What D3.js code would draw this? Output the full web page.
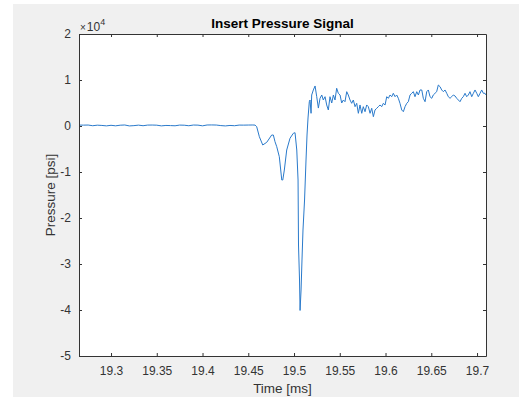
<!DOCTYPE html>
<html>
<head>
<meta charset="utf-8">
<script src="https://cdn.jsdelivr.net/npm/d3@7"></script>
<style>
  html, body { margin: 0; padding: 0; background: #ffffff; }
  svg { display: block; font-family: "Liberation Sans", Arial, sans-serif; }
</style>
</head>
<body>
<div id="chart"></div>
<script>
// time axis values [ms] and pressure values [psi]
var times = [
  19.265, 19.270, 19.275, 19.280, 19.285, 19.290, 19.295, 19.300, 19.305, 19.310,
  19.315, 19.320, 19.325, 19.330, 19.335, 19.340, 19.345, 19.350, 19.355, 19.360,
  19.365, 19.370, 19.375, 19.380, 19.385, 19.390, 19.395, 19.400, 19.405, 19.410,
  19.415, 19.420, 19.425, 19.430, 19.435, 19.440, 19.445, 19.450, 19.455,
  19.4574, 19.4592, 19.4621, 19.4658, 19.4702, 19.4756, 19.4774, 19.4792, 19.4811, 19.4839,
  19.4866, 19.4877, 19.4894, 19.4920, 19.4956, 19.4992, 19.5011, 19.5030, 19.5044, 19.5049,
  19.5060, 19.5066, 19.5077, 19.5087, 19.5098, 19.5115, 19.5131, 19.5142, 19.5153, 19.5167,
  19.5175, 19.5186, 19.5193, 19.5211, 19.5230, 19.5248, 19.5266, 19.5284, 19.5303, 19.5320,
  19.5339, 19.5357, 19.5375, 19.5393, 19.5412, 19.5430, 19.5448, 19.5466, 19.5484, 19.5503,
  19.5521, 19.5539, 19.5557, 19.5576, 19.5593, 19.5612, 19.5630, 19.5648, 19.5667, 19.5685,
  19.5703, 19.5721, 19.5740, 19.5757, 19.5776, 19.5794, 19.5812, 19.5831, 19.5849, 19.5867,
  19.5885, 19.5904, 19.5921, 19.5940, 19.5958, 19.5976, 19.5995, 19.6013, 19.6031, 19.6049,
  19.6068, 19.6085, 19.6104, 19.6122, 19.6140, 19.6158, 19.6177, 19.6195, 19.6213, 19.6232,
  19.6249, 19.6268, 19.6286, 19.6304, 19.6322, 19.6341, 19.6359, 19.6377, 19.6396, 19.6413,
  19.6432, 19.6450, 19.6468, 19.6486, 19.6505, 19.6522, 19.6541, 19.6559, 19.6577, 19.6596,
  19.6614, 19.6632, 19.6650, 19.6669, 19.6686, 19.6705, 19.6723, 19.6741, 19.6760, 19.6778,
  19.6796, 19.6814, 19.6833, 19.6850, 19.6869, 19.6887, 19.6905, 19.6923, 19.6942, 19.6960,
  19.6978, 19.6997, 19.7014, 19.7033, 19.7051, 19.7069, 19.7087, 19.7098
];
var pressure = [
  200, 190, 210, 60, 180, 120, 30, 150, 40, 170,
  220, 20, 80, 190, 60, 200, 210, 180, 30, 120,
  90, 50, 200, 170, 60, 210, 190, 40, 220, 230,
  210, 90, 20, 120, 60, 200, 190, 210, 220,
  200, -150, -2330, -4130, -3540, -1960, -1960, -3410, -4500, -6670,
  -11740, -11740, -9570, -5220, -2670, -1590, -1460, -5220, -11740, -25870,
  -33480, -40100, -35650, -29130, -22610, -16090, -7390, -1960, 1740, 5280,
  5650, 2760, 6740, 7830, 8700, 6370, 3900, 6020, 6740, 5650,
  6370, 4570, 3480, 6370, 5000, 6740, 5650, 8200, 7110, 6740,
  5000, 5650, 5280, 7460, 6740, 5650, 4930, 5650, 4200, 4930,
  2760, 4570, 2760, 4200, 3110, 4570, 4200, 2760, 3850, 2020,
  3480, 3850, 4200, 4570, 4200, 4930, 4570, 6370, 6020, 6740,
  6370, 7110, 6370, 6740, 6020, 4930, 3480, 3110, 4200, 4930,
  5280, 6740, 7110, 7460, 6370, 7460, 6740, 7830, 7830, 6020,
  5280, 7460, 7830, 6370, 6020, 6740, 7110, 7460, 8910, 8540,
  7830, 7460, 7830, 7110, 6370, 6020, 6370, 6740, 6520, 6020,
  5650, 5280, 6020, 6370, 7110, 6370, 6740, 7460, 6370, 7110,
  7830, 7110, 6370, 7110, 7830, 7110, 7110, 6740
];
var xTicks = [19.3, 19.35, 19.4, 19.45, 19.5, 19.55, 19.6, 19.65, 19.7];
var yTicks = [-5, -4, -3, -2, -1, 0, 1, 2];   // in units of 10^4 psi
var xRange = [19.265, 19.7098];
var yRange = [-50000, 20000];

var title = "Insert Pressure Signal";
var xLabel = "Time [ms]";
var yLabel = "Pressure [psi]";

var dim = {
    'width': 519,
    'height': 399
};
var plot = { left: 79, right: 486, top: 34, bottom: 356 };
var ink = '#333333';

var svg = d3.select('#chart').append('svg')
    .attr('width', dim.width)
    .attr('height', dim.height);

// figure background
svg.append('rect')
    .attr('x', 13).attr('y', 4)
    .attr('width', dim.width - 13).attr('height', 393)
    .attr('fill', '#f0f0f0');

svg.append('rect')
    .attr('x', plot.left).attr('y', plot.top)
    .attr('width', plot.right - plot.left).attr('height', plot.bottom - plot.top)
    .attr('fill', '#ffffff');

var x = d3.scaleLinear().domain(xRange).range([plot.left, plot.right]);
var y = d3.scaleLinear().domain(yRange).range([plot.bottom, plot.top]);

var data = times.map((t, i) => ({ t: t, p: pressure[i] }));

var line = d3.line()
    .x(d => x(d.t))
    .y(d => y(d.p));

svg.append('defs').append('clipPath').attr('id', 'clip')
    .append('rect')
    .attr('x', plot.left).attr('y', plot.top)
    .attr('width', plot.right - plot.left).attr('height', plot.bottom - plot.top);

svg.append('path')
    .datum(data)
    .attr('clip-path', 'url(#clip)')
    .attr('d', line)
    .attr('fill', 'none')
    .attr('stroke', '#2a7acb')
    .attr('stroke-width', 1)
    .attr('stroke-linejoin', 'round');

// axes: MATLAB style box with inward ticks on all four sides
var tickLen = 3;
var xBottom = svg.append('g')
    .attr('transform', `translate(0,${plot.bottom})`)
    .call(d3.axisBottom(x).tickValues(xTicks).tickSizeInner(-tickLen).tickSizeOuter(0)
        .tickPadding(10).tickFormat(d3.format('')));
var xTop = svg.append('g')
    .attr('transform', `translate(0,${plot.top})`)
    .call(d3.axisTop(x).tickValues(xTicks).tickSizeInner(-tickLen).tickSizeOuter(0)
        .tickFormat(''));
var yScaled = d3.scaleLinear().domain([yRange[0] / 1e4, yRange[1] / 1e4]).range([plot.bottom, plot.top]);
var yLeft = svg.append('g')
    .attr('transform', `translate(${plot.left},0)`)
    .call(d3.axisLeft(yScaled).tickValues(yTicks).tickSizeInner(-tickLen).tickSizeOuter(0)
        .tickPadding(8).tickFormat(d => d3.format('')(d).replace('−', '-')));
var yRight = svg.append('g')
    .attr('transform', `translate(${plot.right},0)`)
    .call(d3.axisRight(yScaled).tickValues(yTicks).tickSizeInner(-tickLen).tickSizeOuter(0)
        .tickFormat(''));

[xBottom, xTop, yLeft, yRight].forEach(function (g) {
    g.select('.domain').attr('stroke', ink).attr('stroke-width', 1);
    g.selectAll('.tick line').attr('stroke', ink).attr('stroke-width', 1);
    g.selectAll('.tick text')
        .attr('fill', ink)
        .style('font-size', '12px')
        .style('font-family', '"Liberation Sans", Arial, sans-serif');
});

// exponent marker above the y axis
var expo = svg.append('text')
    .attr('x', plot.left + 1)
    .attr('y', 31)
    .attr('fill', ink)
    .style('font-size', '12px');
expo.append('tspan').text('\u00d7').style('font-size', '10px');
expo.append('tspan').text('10').attr('dx', 1);
expo.append('tspan').text('4').attr('dy', -6).style('font-size', '9px');

svg.append('text')
    .attr('x', (plot.left + plot.right) / 2)
    .attr('y', 28)
    .attr('text-anchor', 'middle')
    .attr('fill', '#000000')
    .style('font-size', '13.5px')
    .style('font-weight', 'bold')
    .text(title);

svg.append('text')
    .attr('x', (plot.left + plot.right) / 2)
    .attr('y', 393)
    .attr('text-anchor', 'middle')
    .attr('fill', ink)
    .style('font-size', '13.5px')
    .text(xLabel);

svg.append('text')
    .attr('transform', `translate(55,${(plot.top + plot.bottom) / 2}) rotate(-90)`)
    .attr('text-anchor', 'middle')
    .attr('fill', ink)
    .style('font-size', '13.5px')
    .text(yLabel);
</script>
</body>
</html>
